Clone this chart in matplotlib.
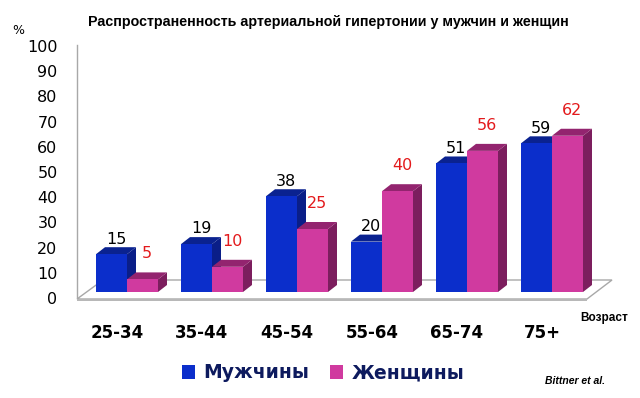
import matplotlib
matplotlib.use("Agg")
import matplotlib.pyplot as plt
from matplotlib.patches import Polygon, Patch
import numpy as np

# ---- data ----
age_groups = ["25-34", "35-44", "45-54", "55-64", "65-74", "75+"]
men = [15, 19, 38, 20, 51, 59]
women = [5, 10, 25, 40, 56, 62]
series_names = ["Мужчины", "Женщины"]
title = "Распространенность артериальной гипертонии у мужчин и женщин"
y_ticks = list(range(0, 101, 10))

# ---- style ----
W_PX, H_PX = 640, 398
blue_front, blue_top, blue_side = "#0B2ECB", "#0A2290", "#0A1E88"
pink_front, pink_top, pink_side = "#D03A9F", "#93246F", "#7C1E5E"
val_colors = ["#000000", "#E31A1C"]

fig = plt.figure(figsize=(W_PX / 100, H_PX / 100), dpi=100)
ax_l, ax_r, ax_t, ax_b = 77, 615, 46, 298
ax = fig.add_axes([ax_l / W_PX, 1 - ax_b / H_PX, (ax_r - ax_l) / W_PX, (ax_b - ax_t) / H_PX])

group_px = 85.0
first_center_px = 127.0
ppu_y = (ax_b - ax_t) / 100.0
ax.set_xlim((ax_l - first_center_px) / group_px, (ax_r - first_center_px) / group_px)
ax.set_ylim(0, 100)

bw = 31 / group_px          # bar width (data units)
dx = 9 / group_px           # depth offset x
dy = 7 / ppu_y              # depth offset y
base = 6 / ppu_y            # bar base above axis zero

x = np.arange(len(age_groups))

# floor slab
def px2d(px, py):
    return ((px - first_center_px) / group_px, (ax_b - py) / ppu_y)

floor = Polygon([px2d(77, 299), px2d(103, 280), px2d(612, 280), px2d(587, 299)],
                closed=True, facecolor="white", edgecolor="#A8A8A8", lw=1.0,
                zorder=1, clip_on=False)
ax.add_patch(floor)
front_strip = Polygon([px2d(77, 299), px2d(587, 299), px2d(587, 301), px2d(77, 301)],
                      closed=True, facecolor="#B8B8B8", edgecolor="none", zorder=1, clip_on=False)
ax.add_patch(front_strip)

def bar3d(x0, h, front, top, side, z):
    x1 = x0 + bw
    t = base + h
    ax.add_patch(Polygon([(x1, base), (x1 + dx, base + dy), (x1 + dx, t + dy), (x1, t)],
                         closed=True, facecolor=side, edgecolor="none", zorder=z))
    ax.add_patch(Polygon([(x0, t), (x0 + dx, t + dy), (x1 + dx, t + dy), (x1, t)],
                         closed=True, facecolor=top, edgecolor="none", zorder=z))

bars_m = ax.bar(x - bw, men, width=bw, bottom=base, align="edge", color=blue_front,
                zorder=3, label=series_names[0])
bars_w = ax.bar(x, women, width=bw, bottom=base, align="edge", color=pink_front,
                zorder=5, label=series_names[1])
for i in range(len(x)):
    bar3d(x[i] - bw, men[i], blue_front, blue_top, blue_side, 2)
    bar3d(x[i], women[i], pink_front, pink_top, pink_side, 4)

# value labels
for i in range(len(x)):
    ax.annotate(str(men[i]), xy=(x[i] - bw / 2 + dx / 2, base + men[i] + dy),
                xytext=(0, 0.5), textcoords="offset points", ha="center", va="bottom",
                fontsize=11.5, color=val_colors[0], zorder=6)
    ax.annotate(str(women[i]), xy=(x[i] + bw / 2 + dx / 2, base + women[i] + dy),
                xytext=(0, 8), textcoords="offset points", ha="center", va="bottom",
                fontsize=11.5, color=val_colors[1], zorder=6)

# axes styling
for s in ["top", "right", "bottom"]:
    ax.spines[s].set_visible(False)
ax.spines["left"].set_color("#A8A8A8")
ax.spines["left"].set_linewidth(1.0)
ax.spines["left"].set_bounds(0.3, 100.4)
ax.set_yticks(y_ticks)
ax.set_yticklabels([str(v) for v in y_ticks], fontsize=11.5)
ax.tick_params(axis="y", length=0, pad=14)
ax.set_xticks(x - 10 / group_px)
ax.set_xticklabels(age_groups, fontsize=12, fontweight="bold")
ax.tick_params(axis="x", length=0, pad=19)
ax.patch.set_alpha(0)

fig.text(88 / W_PX, 1 - 22 / H_PX, title, ha="left", va="center",
         fontsize=10.3, fontweight="bold", family="Liberation Sans")
fig.text(18 / W_PX, 1 - 31 / H_PX, "%", ha="center", va="center", fontsize=9)
fig.text(580 / W_PX, 1 - 318 / H_PX, "Возраст", ha="left", va="center",
         fontsize=8.5, fontweight="bold", family="Liberation Sans")
fig.text(605 / W_PX, 1 - 381 / H_PX, "Bittner et al.", ha="right", va="center",
         fontsize=7.5, fontweight="bold", style="italic", family="Liberation Sans")

handles = [Patch(facecolor=blue_front), Patch(facecolor=pink_front)]
leg = fig.legend(handles, series_names, loc="center", bbox_to_anchor=(323 / W_PX, 1 - 373 / H_PX),
                 ncol=2, frameon=False, handlelength=0.7, handleheight=0.7,
                 handletextpad=0.45, columnspacing=1.1,
                 prop={"size": 13.5, "weight": "bold"})
for t in leg.get_texts():
    t.set_color("#0D1A5E")

fig.savefig("out.png", dpi=100)
